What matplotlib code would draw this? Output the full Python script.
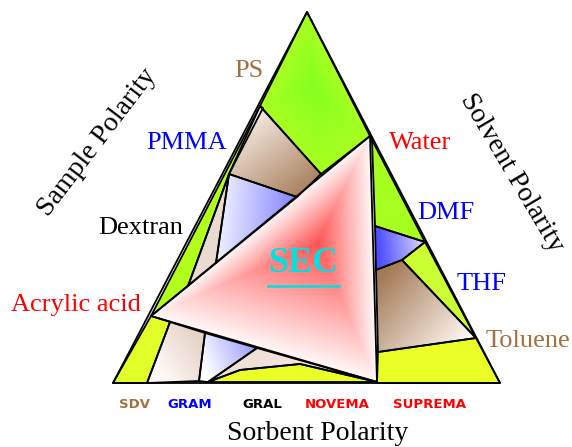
import matplotlib
matplotlib.use("Agg")
import matplotlib.pyplot as plt
import numpy as np
from matplotlib.patches import Polygon

W, H = 572, 447

# corner / anchor points of the diagram (image pixels, y down)
apex = (307, 12)
left_base = (113, 383)
right_base = (500, 383)
ps_pt = (260, 106)
pmma_pt = (227, 173)
acryl_pt = (151, 316)
water_pt = (370, 136)
dmf_pt = (425, 242)
tol_pt = (476, 338)

# regions: vertices
top_green = [apex, water_pt, (321, 174), ps_pt]
left_strip = [ps_pt, acryl_pt, (188, 286), (229, 174), (263, 108)]
brown_top = [ps_pt, (321, 174), (297, 197), (229, 174)]
beige_left = [(229, 174), (216, 263), (188, 286)]
blue_left = [(229, 174), (297, 197), (216, 263)]
sec_tri = [water_pt, acryl_pt, (377, 382)]
green_right = [water_pt, dmf_pt, (375, 226), (372, 140)]
blue_right = [(375, 226), dmf_pt, (402, 260), (376, 270)]
wedge_right = [dmf_pt, tol_pt, (402, 260)]
brown_right = [(376, 270), (402, 260), tol_pt, (378, 352)]
yellow_right = [(378, 352), tol_pt, right_base, (377, 383)]
yellow_left = [acryl_pt, (170, 322), (147, 383), left_base]
beige_bottom = [(170, 322), (205, 333), (199, 381), (147, 383)]
blue_bottom = [(205, 333), (257, 348), (208, 382), (199, 381)]
band_bottom = [(257, 348), (377, 382), (300, 364), (240, 370), (208, 382)]
yellow_bottom = [(208, 382), (240, 370), (300, 364), (377, 382)]

# labels
corner_labels = ["PS", "PMMA", "Dextran", "Acrylic acid", "Water", "DMF", "THF", "Toluene"]
corner_xy = [(249, 71), (187, 143), (141, 228), (76, 305), (420, 143), (446, 213), (482, 284), (528, 341)]
corner_colors = ["#a5703f", "#0000ff", "black", "#ff0000", "#ff0000", "#0000ff", "#0000ff", "#a5703f"]

column_labels = ["SDV", "GRAM", "GRAL", "NOVEMA", "SUPREMA"]
column_x = [134, 190, 262, 337, 430]
column_colors = ["#a5703f", "#0000ff", "black", "#ff0000", "#ff0000"]


def grad_fill(ax, verts, c0, c1, p0=None, p1=None, center=None):
    v = np.array(verts, float)
    x0, y0 = np.floor(v.min(0))
    x1, y1 = np.ceil(v.max(0))
    xs = np.arange(x0, x1 + 1)
    ys = np.arange(y0, y1 + 1)
    X, Y = np.meshgrid(xs, ys)
    if center is None:
        d = np.array(p1, float) - np.array(p0, float)
        t = ((X - p0[0]) * d[0] + (Y - p0[1]) * d[1]) / (d @ d)
    else:
        c = np.array(center, float)
        t = np.zeros_like(X)
        for i in range(len(v)):
            a, b = v[i], v[(i + 1) % len(v)]
            n = np.array([b[1] - a[1], a[0] - b[0]])
            den = n @ (a - c)
            if abs(den) < 1e-9:
                continue
            t = np.maximum(t, (n[0] * (X - c[0]) + n[1] * (Y - c[1])) / den)
    t = np.clip(t, 0, 1)[..., None]
    img = np.array(c0) + (np.array(c1) - np.array(c0)) * t
    im = ax.imshow(img, extent=(x0, x1, y1, y0), origin="upper",
                   interpolation="bilinear", zorder=1, aspect="auto")
    clip = Polygon(v, closed=True, facecolor="none", edgecolor="none")
    ax.add_patch(clip)
    im.set_clip_path(clip)


def solid(ax, verts, color):
    ax.add_patch(Polygon(verts, closed=True, facecolor=color, edgecolor="none", zorder=1))


fig = plt.figure(figsize=(5.72, 4.47), dpi=100)
ax = fig.add_axes([0, 0, 1, 1])
ax.axis("off")

grad_fill(ax, top_green, (0.52, 1.0, 0.12), (0.66, 1.0, 0.13), center=(312, 85))
solid(ax, left_strip, "#b2ff1e")
grad_fill(ax, brown_top, (0.99, 0.96, 0.94), (0.66, 0.5, 0.36), p0=(240, 112), p1=(302, 196))
solid(ax, beige_left, "#eadbd0")
grad_fill(ax, blue_left, (0.93, 0.93, 1.0), (0.55, 0.55, 1.0), p0=(222, 200), p1=(290, 205))
grad_fill(ax, sec_tri, (1.0, 0.33, 0.33), (1.0, 0.97, 0.97), center=(318, 243))
solid(ax, green_right, "#a6ff1e")
grad_fill(ax, blue_right, (0.3, 0.3, 1.0), (0.85, 0.85, 1.0), p0=(378, 250), p1=(425, 245))
solid(ax, wedge_right, "#ccff33")
grad_fill(ax, brown_right, (0.64, 0.48, 0.34), (1.0, 0.97, 0.95), p0=(385, 272), p1=(465, 342))
solid(ax, yellow_right, "#eaff26")
solid(ax, yellow_left, "#e2ff2a")
grad_fill(ax, beige_bottom, (0.9, 0.83, 0.78), (1.0, 0.98, 0.97), p0=(203, 345), p1=(160, 375))
grad_fill(ax, blue_bottom, (1.0, 1.0, 1.0), (0.62, 0.62, 1.0), p0=(205, 370), p1=(255, 350))
grad_fill(ax, band_bottom, (0.94, 0.88, 0.85), (0.98, 0.93, 0.9), p0=(260, 355), p1=(370, 380))
solid(ax, yellow_bottom, "#eaff26")

for poly in [top_green, left_strip, brown_top, beige_left, blue_left, sec_tri, green_right,
             blue_right, wedge_right, brown_right, yellow_right, yellow_left, beige_bottom,
             blue_bottom, band_bottom, yellow_bottom, [apex, left_base, right_base]]:
    ax.add_patch(Polygon(poly, closed=True, facecolor="none", edgecolor="black",
                         lw=1.3, joinstyle="round", zorder=3))

serif = ["Liberation Serif", "DejaVu Serif"]
for lab, (x, y), col in zip(corner_labels, corner_xy, corner_colors):
    ax.text(x, y, lab, color=col, fontsize=19, family=serif, ha="center", va="center", zorder=5)

ax.text(303, 264, "SEC", color="#00e0e0", fontsize=26, family=serif, weight="bold",
        ha="center", va="center", zorder=5)
ax.plot([268, 339], [286, 286], color="#00e0e0", lw=1.8, zorder=5)

ax.text(97, 142, "Sample Polarity", fontsize=20, family=serif, rotation=52.6,
        rotation_mode="anchor", ha="center", va="center")
ax.text(512, 173, "Solvent Polarity", fontsize=20, family=serif, rotation=-59.3,
        rotation_mode="anchor", ha="center", va="center")
ax.text(318, 433, "Sorbent Polarity", fontsize=20, family=serif, ha="center", va="center")

for lab, x, col in zip(column_labels, column_x, column_colors):
    ax.text(x, 405, lab, color=col, fontsize=9.5, family="DejaVu Sans", weight="bold",
            ha="center", va="center")

ax.set_xlim(0, W)
ax.set_ylim(H, 0)
fig.savefig("out.png", dpi=100)
